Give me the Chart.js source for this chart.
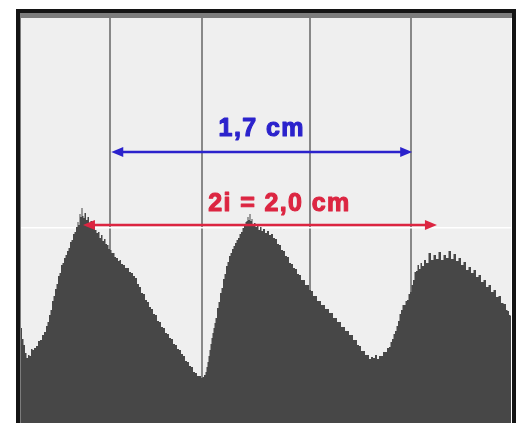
<!DOCTYPE html>
<html>
<head>
<meta charset="utf-8">
<script src="https://cdn.jsdelivr.net/npm/chart.js@4"></script>
<style>
  html, body { margin: 0; padding: 0; background: #ffffff; }
  canvas { display: block; }
</style>
</head>
<body>
<canvas id="profile" width="524" height="423"></canvas>
<script>
// Grey-level profile along the fringe pattern: [sample position, level]
const profilePoints = [
  [0,95],[2,84],[3,78],[5,70],[6,65],[8,68],[9,67],[11,74],[12,73],[14,75],
  [16,77],[18,82],[20,83],[22,88],[24,91],[26,97],[27,101],[29,108],[30,113],[32,122],
  [33,127],[35,134],[36,139],[38,147],[39,150],[41,158],[42,160],[44,165],[45,168],[47,172],
  [48,175],[50,181],[51,183],[53,189],[54,191],[56,196],[57,201],[58,198],[59,209],[60,206],
  [61,215],[62,207],[63,205],[64,210],[66,203],[67,206],[69,199],[70,202],[72,195],[73,197],
  [75,193],[76,190],[78,191],[79,185],[81,188],[82,182],[84,184],[85,179],[87,178],[88,174],
  [90,173],[91,170],[93,170],[94,166],[96,165],[98,162],[99,163],[101,159],[103,158],[105,155],
  [107,155],[109,151],[111,150],[113,147],[115,145],[117,139],[119,136],[121,130],[123,129],[125,123],
  [127,121],[129,116],[131,114],[133,109],[135,108],[137,102],[139,101],[141,96],[143,95],[145,90],
  [147,89],[149,85],[151,84],[153,79],[155,78],[157,74],[159,73],[161,69],[163,67],[165,62],
  [167,61],[169,57],[171,56],[173,51],[175,50],[177,47],[179,47],[181,45],[182,46],[184,48],
  [185,51],[186,56],[187,61],[188,67],[189,73],[190,79],[191,85],[192,90],[193,95],[194,100],
  [195,105],[197,115],[198,121],[200,130],[201,135],[203,144],[204,149],[206,157],[207,161],[209,167],
  [210,170],[212,174],[213,177],[215,180],[216,183],[218,185],[219,189],[221,191],[222,195],[224,197],
  [225,201],[226,202],[227,206],[228,203],[229,209],[230,202],[231,204],[232,198],[234,200],[235,196],
  [237,198],[238,193],[240,196],[241,192],[243,194],[245,190],[247,192],[249,188],[251,189],[253,185],
  [255,184],[257,179],[259,178],[261,173],[263,172],[265,167],[267,166],[269,160],[271,159],[273,155],
  [275,154],[277,149],[279,148],[281,143],[283,143],[285,138],[287,138],[289,133],[291,132],[293,127],
  [295,127],[297,122],[299,122],[301,118],[303,118],[305,114],[307,114],[309,110],[311,110],[313,105],
  [315,105],[317,101],[319,101],[321,96],[323,96],[325,92],[327,92],[329,88],[331,88],[333,83],
  [335,83],[337,78],[339,77],[341,72],[343,72],[345,68],[347,68],[349,64],[351,66],[353,65],
  [355,68],[357,64],[359,67],[361,67],[363,71],[365,71],[367,75],[369,76],[370,81],[372,84],
  [373,89],[375,92],[376,97],[378,102],[379,109],[381,113],[382,118],[384,118],[385,122],[387,123],
  [388,129],[390,131],[391,138],[393,143],[394,151],[396,152],[397,158],[399,154],[400,160],[402,157],
  [404,163],[406,160],[409,170],[411,163],[414,168],[416,164],[419,171],[421,163],[424,168],[426,165],
  [429,172],[431,164],[434,169],[436,162],[439,165],[441,158],[444,161],[446,153],[449,156],[451,150],
  [454,153],[456,146],[459,148],[461,141],[464,143],[466,136],[469,138],[471,131],[474,133],[476,126],
  [479,127],[481,120],[484,119],[486,113],[487,112],[489,108],[490,107]
];

// Scale calibration: samples per centimetre
const SAMPLES_PER_CM = 177;

// Vertical reference lines (sample positions)
const markerLines = [89, 181, 289, 390];

// Horizontal guide level
const guideLevels = [195];

// Distance measurements drawn as double arrows
const measureLabels   = ['1,7 cm', '2i = 2,0 cm'];
const measureStartCm  = [0.51, 0.35];
const measureLengthCm = [1.7, 2.0];
const measureLevels   = [271, 198];
const labelLevels     = [287, 212];
const labelCenterCm   = [1.36, 1.46];
const measureColors   = ['#2b22cc', '#dc2541'];

function drawArrow(ctx, x1, x2, y, color) {
  const head = 12, half = 5;
  ctx.save();
  ctx.strokeStyle = color;
  ctx.fillStyle = color;
  ctx.lineWidth = 2.5;
  ctx.beginPath();
  ctx.moveTo(x1 + head - 2, y);
  ctx.lineTo(x2 - head + 2, y);
  ctx.stroke();
  ctx.beginPath();
  ctx.moveTo(x1, y);
  ctx.lineTo(x1 + head, y - half);
  ctx.lineTo(x1 + head, y + half);
  ctx.closePath();
  ctx.fill();
  ctx.beginPath();
  ctx.moveTo(x2, y);
  ctx.lineTo(x2 - head, y - half);
  ctx.lineTo(x2 - head, y + half);
  ctx.closePath();
  ctx.fill();
  ctx.restore();
}

const framePlugin = {
  id: 'frameAndMeasures',
  beforeDraw(chart) {
    const { ctx, chartArea: a } = chart;
    ctx.save();
    ctx.fillStyle = '#ffffff';
    ctx.fillRect(0, 0, chart.width, chart.height);
    ctx.fillStyle = '#efefef';
    ctx.fillRect(a.left, a.top, a.right - a.left, a.bottom - a.top);
    ctx.restore();
  },
  afterDraw(chart) {
    const { ctx, chartArea: a } = chart;
    const xs = chart.scales.x, ys = chart.scales.y;
    ctx.save();
    // frame
    ctx.fillStyle = '#7c7c7c';
    ctx.fillRect(a.left - 1, a.top - 5, a.right - a.left + 2, 5);
    ctx.fillRect(a.left - 1, a.top, 1, a.bottom - a.top);
    ctx.fillStyle = '#141414';
    ctx.fillRect(a.left - 5, a.top - 9, a.right - a.left + 10, 4);
    ctx.fillRect(a.left - 5, a.top - 9, 4, chart.height - a.top + 9);
    ctx.fillRect(a.right + 1, a.top - 9, 4, chart.height - a.top + 9);
    ctx.restore();

    // measurements
    for (let i = 0; i < measureLabels.length; i++) {
      const x1 = xs.getPixelForValue(measureStartCm[i] * SAMPLES_PER_CM);
      const x2 = xs.getPixelForValue((measureStartCm[i] + measureLengthCm[i]) * SAMPLES_PER_CM);
      const y = ys.getPixelForValue(measureLevels[i]);
      drawArrow(ctx, x1, x2, y, measureColors[i]);
      const tx = xs.getPixelForValue(labelCenterCm[i] * SAMPLES_PER_CM);
      const ty = ys.getPixelForValue(labelLevels[i]);
      ctx.save();
      ctx.fillStyle = measureColors[i];
      ctx.strokeStyle = measureColors[i];
      ctx.lineWidth = 1.1;
      ctx.lineJoin = 'round';
      ctx.font = 'bold 25px "Liberation Sans", Arial, sans-serif';
      ctx.letterSpacing = '1.4px';
      ctx.textAlign = 'center';
      ctx.textBaseline = 'alphabetic';
      ctx.strokeText(measureLabels[i], tx, ty);
      ctx.fillText(measureLabels[i], tx, ty);
      ctx.restore();
    }
  }
};

new Chart(document.getElementById('profile'), {
  type: 'line',
  data: {
    datasets: [{
      data: profilePoints.map(p => ({ x: p[0], y: p[1] })),
      stepped: 'middle',
      fill: 'origin',
      backgroundColor: '#474747',
      borderColor: '#474747',
      borderWidth: 0,
      pointRadius: 0
    }]
  },
  options: {
    responsive: false,
    animation: false,
    devicePixelRatio: 1,
    events: [],
    layout: { padding: { left: 21, right: 13, top: 18, bottom: 0 } },
    plugins: { legend: { display: false }, tooltip: { enabled: false } },
    scales: {
      x: {
        type: 'linear', min: 0, max: 490, z: 1,
        border: { display: false },
        ticks: { display: false },
        grid: { drawTicks: false, color: 'rgba(118,118,118,0.85)', lineWidth: 2 },
        afterBuildTicks: s => { s.ticks = markerLines.map(v => ({ value: v })); }
      },
      y: {
        min: 0, max: 405,
        border: { display: false },
        ticks: { display: false },
        grid: { drawTicks: false, color: '#ffffff', lineWidth: 1.5 },
        afterBuildTicks: s => { s.ticks = guideLevels.map(v => ({ value: v })); }
      }
    }
  },
  plugins: [framePlugin]
});
</script>
</body>
</html>
